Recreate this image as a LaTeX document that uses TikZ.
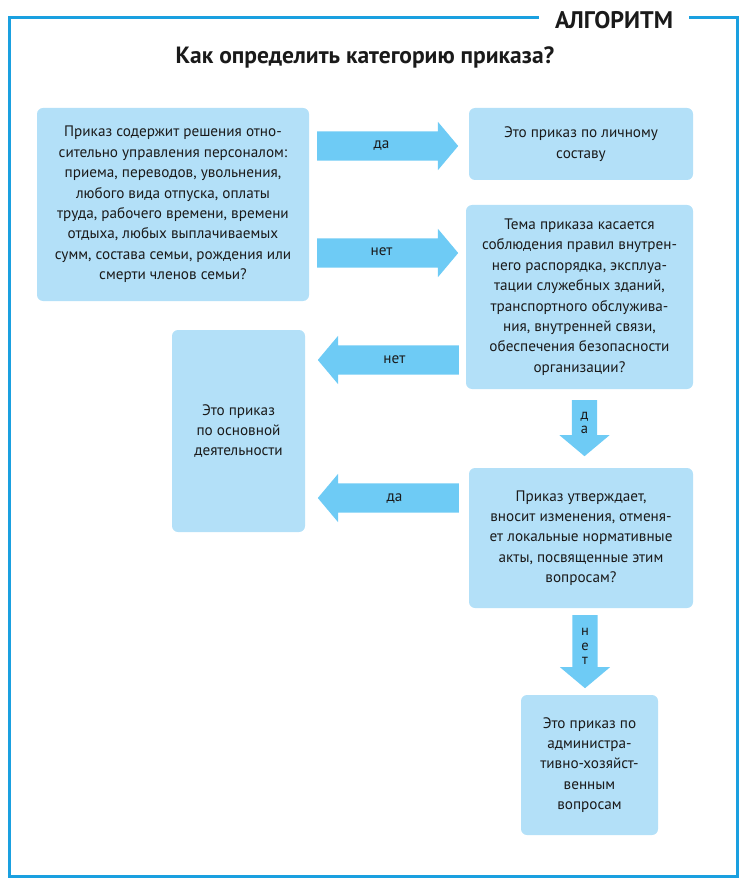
\documentclass[tikz,border=0pt]{standalone}
\usepackage{fontspec}
\setmainfont{PT Sans}
\usetikzlibrary{shapes.arrows}

\definecolor{framecol}{HTML}{1AA0E0}
\definecolor{boxcol}{HTML}{B3E0F8}
\definecolor{arrcol}{HTML}{6ECBF5}
\definecolor{txtcol}{HTML}{1A1A1A}

\begin{document}
\begin{tikzpicture}[
    x=1pt, y=-1pt,
    qbox/.style={fill=boxcol, rounded corners=6pt, align=center,
        text=txtcol, font=\fontsize{15.2}{20.4}\selectfont, inner sep=0pt},
    harrow/.style={single arrow, fill=arrcol, minimum height=141pt,
        minimum width=48pt, single arrow head extend=9.5pt,
        single arrow tip angle=100, inner xsep=2pt, inner ysep=7.5pt,
        text height=10pt, text depth=4pt, text=txtcol, anchor=tail,
        font=\fontsize{15.2}{17}\selectfont},
    varrow/.style={single arrow, fill=arrcol, shape border rotate=270,
        minimum width=50pt, single arrow head extend=12.5pt,
        single arrow tip angle=100, inner xsep=8pt, inner ysep=2pt,
        text width=9pt, text=txtcol, align=center, anchor=tail,
        font=\fontsize{14.5}{14.5}\selectfont},
]
\useasboundingbox (0,0) rectangle (744,882);

% Frame and headings
\draw[framecol, line width=3pt] (9,18) rectangle (737,876);
\node[fill=white, minimum width=150pt, minimum height=12pt, inner sep=0pt,
    font=\fontsize{24}{26}\selectfont\bfseries, text=txtcol] (algo) at (614,20) {АЛГОРИТМ};
\node[font=\fontsize{23.5}{26}\selectfont\bfseries, text=txtcol] (title) at (365,57)
    {Как определить категорию приказа?};

% Question and answer boxes
\node[qbox, minimum width=272pt, minimum height=193pt] (pers) at (173,204.5)
    {Приказ содержит решения отно-\\сительно управления персоналом:\\
     приема, переводов, увольнения,\\любого вида отпуска, оплаты\\
     труда, рабочего времени, времени\\отдыха, любых выплачиваемых\\
     сумм, состава семьи, рождения или\\смерти членов семьи?};
\node[qbox, minimum width=224pt, minimum height=72pt] (lichn) at (581,144)
    {Это приказ по личному\\составу};
\node[qbox, minimum width=227pt, minimum height=184pt] (rasp) at (579.5,297)
    {Тема приказа касается\\соблюдения правил внутрен-\\него распорядка, эксплуа-\\
     тации служебных зданий,\\транспортного обслужива-\\ния, внутренней связи,\\
     обеспечения безопасности\\организации?};
\node[qbox, minimum width=133pt, minimum height=202pt] (osnov) at (238.5,431)
    {Это приказ\\по основной\\деятельности};
\node[qbox, minimum width=224pt, minimum height=140pt] (norm) at (581,538)
    {Приказ утверждает,\\вносит изменения, отменя-\\ет локальные нормативные\\
     акты, посвященные этим\\вопросам?};
\node[qbox, minimum width=137pt, minimum height=140pt] (admin) at (589.5,765)
    {Это приказ по\\администра-\\тивно-хозяйст-\\венным\\вопросам};

% Block arrows between boxes
\node[harrow] (yes1) at (317,146) {да};
\node[harrow] (no1) at (317,253) {нет};
\node[harrow, shape border rotate=180] (no2) at (459,360) {нет};
\node[harrow, shape border rotate=180] (yes2) at (459,498) {да};
\node[varrow, minimum height=56pt] (yes3) at (584.5,400) {д\\а};
\node[varrow, minimum height=73pt] (no3) at (585,615) {н\\е\\т};

\end{tikzpicture}
\end{document}
